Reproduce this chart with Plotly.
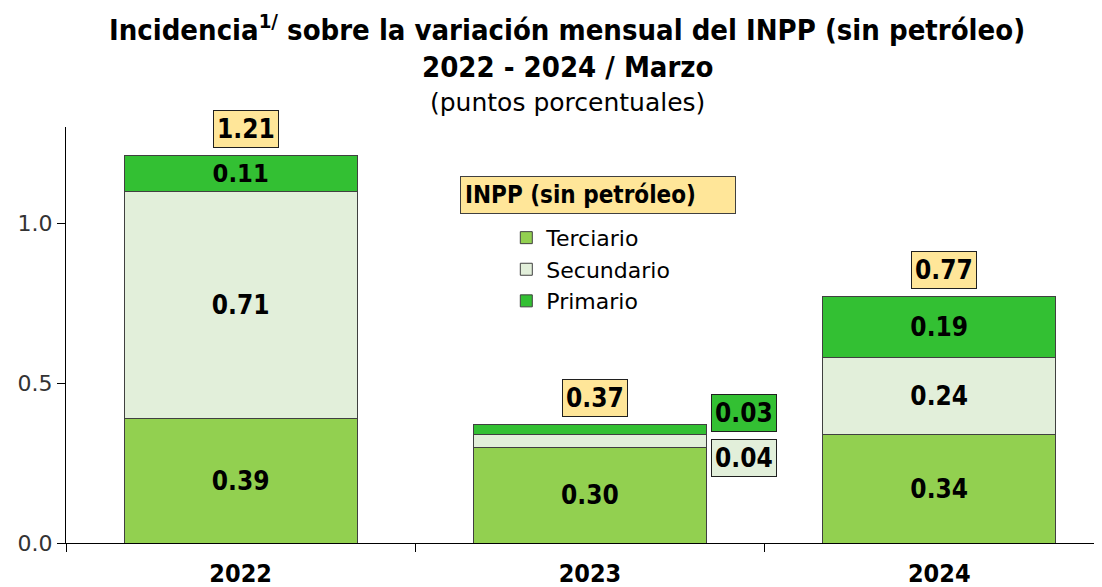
import plotly.graph_objects as go

years = ["2022", "2023", "2024"]
terciario = [0.39, 0.30, 0.34]
secundario = [0.71, 0.04, 0.24]
primario = [0.11, 0.03, 0.19]
totales = [1.21, 0.37, 0.77]

series = [
    ("Terciario", terciario, "#92D050"),
    ("Secundario", secundario, "#E2EFDA"),
    ("Primario", primario, "#33C033"),
]

BOLD = "DejaVu Sans Condensed, Roboto"
REG = "DejaVu Sans"
VAL = 26
fig = go.Figure()
for name, vals, col in series:
    txt = [f"{v:.2f}" if v >= 0.08 else "" for v in vals]
    fig.add_trace(go.Bar(
        x=years, y=vals, name=name, text=txt, textposition="inside",
        insidetextanchor="middle", textangle=0,
        textfont=dict(family=BOLD, size=VAL, color="black", weight="bold"),
        marker=dict(color=col, line=dict(color="#404040", width=1)),
        width=0.667,
    ))

# total labels
for i, t in enumerate(totales):
    fig.add_annotation(x=i, y=t, text=f"<b>{t:.2f}</b>", showarrow=False,
                       yanchor="bottom", yshift=8, xshift=5,
                       font=dict(family=BOLD, size=VAL, color="black"),
                       bgcolor="#FFE699", bordercolor="#202020", borderwidth=1, borderpad=3)

# small-segment labels for 2023
i = 1
fig.add_annotation(x=i, y=totales[i], text=f"<b>{primario[i]:.2f}</b>", showarrow=False,
                   xanchor="left", yanchor="middle", xshift=121, yshift=12,
                   font=dict(family=BOLD, size=VAL, color="black"),
                   bgcolor="#33C033", bordercolor="#202020", borderwidth=1, borderpad=3)
fig.add_annotation(x=i, y=totales[i], text=f"<b>{secundario[i]:.2f}</b>", showarrow=False,
                   xanchor="left", yanchor="middle", xshift=121, yshift=-33,
                   font=dict(family=BOLD, size=VAL, color="black"),
                   bgcolor="#E2EFDA", bordercolor="#202020", borderwidth=1, borderpad=3)

# legend title box
fig.add_annotation(xref="paper", yref="paper", x=0.5135, y=0.8377,
                   xanchor="center", yanchor="middle",
                   text="<b>INPP (sin petróleo)</b>", showarrow=False,
                   width=266, align="left",
                   font=dict(family=BOLD, size=24, color="black"),
                   bgcolor="#FFE699", bordercolor="#404040", borderwidth=1, borderpad=4)

# titles
TX = 0.4836
fig.add_annotation(xref="paper", yref="paper", x=TX, y=1, yanchor="bottom", yshift=78,
                   text="<b>Incidencia<sup>1/</sup> sobre la variación mensual del INPP (sin petróleo)</b>",
                   showarrow=False, font=dict(family=BOLD, size=29, color="black"))
fig.add_annotation(xref="paper", yref="paper", x=TX, y=1, yanchor="bottom", yshift=41,
                   text="<b>2022 - 2024 / Marzo</b>",
                   showarrow=False, font=dict(family=BOLD, size=29, color="black"))
fig.add_annotation(xref="paper", yref="paper", x=TX, y=1, yanchor="bottom", yshift=8,
                   text="(puntos porcentuales)",
                   showarrow=False, font=dict(family=REG, size=25, color="black"))

# page has an 8px body margin: figure is sized so the plot lands where the reference's does
fig.update_layout(
    barmode="stack",
    width=1094, height=579,
    margin=dict(l=58, r=0, t=119, b=44, autoexpand=False),
    paper_bgcolor="white", plot_bgcolor="white",
    showlegend=True,
    legend=dict(x=0.425, y=0.784, xanchor="left", yanchor="top", traceorder="normal",
                font=dict(family=REG, size=22, color="black"), bgcolor="rgba(0,0,0,0)",
                itemclick=False, itemwidth=30, tracegroupgap=0),
    xaxis=dict(range=[-0.5, 2.466], showline=True, linecolor="black", linewidth=1,
               ticks="outside", tickson="boundaries", ticklen=8, tickcolor="black",
               tickfont=dict(family=BOLD, size=25, color="black", weight="bold"),
               ticklabelstandoff=8, showgrid=False, zeroline=False, automargin=False),
    yaxis=dict(range=[0, 1.3], showline=True, linecolor="black", linewidth=1,
               ticks="outside", ticklen=8, tickcolor="black", tickvals=[0, 0.5, 1.0],
               tickformat=".1f", tickfont=dict(family=REG, size=22, color="#333333"),
               showgrid=False, zeroline=False, automargin=False),
)

fig.write_html("out.html")
